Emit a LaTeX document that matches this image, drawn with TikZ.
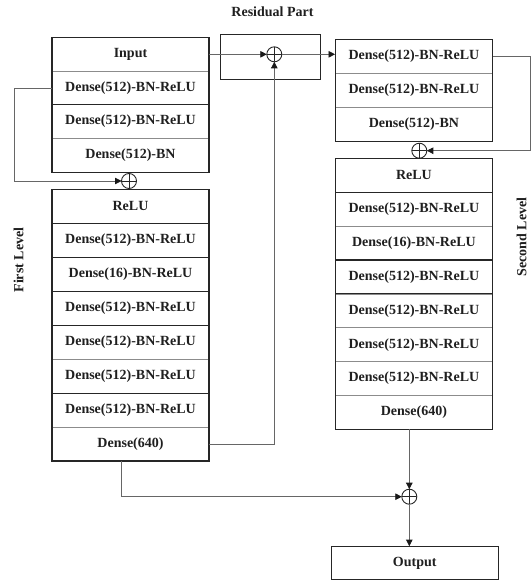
\documentclass[tikz,border=0pt]{standalone}
\usepackage{fontspec}
\setmainfont{Liberation Serif}
\usetikzlibrary{arrows.meta}
\begin{document}
\begin{tikzpicture}[x=1pt,y=-1pt,
  row/.style={draw=black!45, line width=0.6pt, minimum width=157pt, minimum height=33.9pt, inner sep=0pt, outer sep=0pt, font=\fontsize{14}{16}\selectfont\bfseries, text=black!88},
  frame/.style={draw=black!85, line width=1.1pt},
  sep/.style={draw=black!85, line width=1.1pt},
  sumnode/.style={circle, draw=black!85, line width=0.9pt, minimum size=15pt, inner sep=0pt, outer sep=0pt,
    path picture={\draw[black!85,line width=0.9pt] (path picture bounding box.north) -- (path picture bounding box.south) (path picture bounding box.west) -- (path picture bounding box.east);}},
  conn/.style={draw=black!60, line width=0.8pt},
  arr/.style={conn, -{Triangle[length=6.5pt,width=6.5pt,color=black!90]}},
  lbl/.style={font=\fontsize{14}{16}\selectfont\bfseries, text=black!88}
]
\useasboundingbox (0,0) rectangle (531,581);

% ---------- left top group ----------
\node[row, minimum height=33.7pt] (L1) at (130.5,54.2) {Input};
\node[row, minimum height=33.7pt] (L2) at (130.5,87.9) {Dense(512)-BN-ReLU};
\node[row, minimum height=33.7pt] (L3) at (130.5,121.6) {Dense(512)-BN-ReLU};
\node[row, minimum height=33.7pt] (L4) at (130.5,155.3) {Dense(512)-BN};
\draw[frame] (L1.north west) rectangle (L4.south east);
\draw[sep] (L2.south west) -- (L2.south east);

% ---------- left lower group ----------
\node[row, minimum height=33.96pt] (A1) at (130.5,206.3) {ReLU};
\node[row, minimum height=33.96pt] (A2) at (130.5,240.2) {Dense(512)-BN-ReLU};
\node[row, minimum height=33.96pt] (A3) at (130.5,274.2) {Dense(16)-BN-ReLU};
\node[row, minimum height=33.96pt] (A4) at (130.5,308.2) {Dense(512)-BN-ReLU};
\node[row, minimum height=33.96pt] (A5) at (130.5,342.1) {Dense(512)-BN-ReLU};
\node[row, minimum height=33.96pt] (A6) at (130.5,376.1) {Dense(512)-BN-ReLU};
\node[row, minimum height=33.96pt] (A7) at (130.5,410.0) {Dense(512)-BN-ReLU};
\node[row, minimum height=33.96pt] (A8) at (130.5,444.0) {Dense(640)};
\draw[frame] (A1.north west) rectangle (A8.south east);
\foreach \n in {A1,A2,A3,A4,A6} \draw[sep] (\n.south west) -- (\n.south east);

% ---------- right top group ----------
\node[row, minimum width=157.7pt, minimum height=33.9pt] (R1) at (413.9,56.3) {Dense(512)-BN-ReLU};
\node[row, minimum width=157.7pt, minimum height=33.9pt] (R2) at (413.9,90.2) {Dense(512)-BN-ReLU};
\node[row, minimum width=157.7pt, minimum height=33.9pt] (R3) at (413.9,124.1) {Dense(512)-BN};
\draw[frame] (R1.north west) rectangle (R3.south east);

% ---------- right lower group ----------
\node[row, minimum width=157.7pt, minimum height=33.9pt] (B1) at (413.9,175.2) {ReLU};
\node[row, minimum width=157.7pt, minimum height=33.9pt] (B2) at (413.9,209.1) {Dense(512)-BN-ReLU};
\node[row, minimum width=157.7pt, minimum height=33.9pt] (B3) at (413.9,243.0) {Dense(16)-BN-ReLU};
\node[row, minimum width=157.7pt, minimum height=33.9pt] (B4) at (413.9,276.9) {Dense(512)-BN-ReLU};
\node[row, minimum width=157.7pt, minimum height=33.9pt] (B5) at (413.9,310.8) {Dense(512)-BN-ReLU};
\node[row, minimum width=157.7pt, minimum height=33.9pt] (B6) at (413.9,344.7) {Dense(512)-BN-ReLU};
\node[row, minimum width=157.7pt, minimum height=33.9pt] (B7) at (413.9,378.6) {Dense(512)-BN-ReLU};
\node[row, minimum width=157.7pt, minimum height=33.9pt] (B8) at (413.9,412.4) {Dense(640)};
\draw[frame] (B1.north west) rectangle (B8.south east);
\foreach \n in {B1,B3,B4} \draw[sep] (\n.south west) -- (\n.south east);

% ---------- residual part ----------
\node[lbl] (restitle) at (272.5,11.5) {Residual Part};
\node[frame, minimum width=100pt, minimum height=45.4pt, inner sep=0pt] (resbox) at (270.7,57) {};
\node[sumnode] (cres) at (274.3,54.3) {};

% ---------- sum nodes ----------
\node[sumnode] (c1) at (129,181) {};
\node[sumnode] (c2) at (419.3,150.7) {};
\node[sumnode] (c3) at (409.3,496.7) {};

% ---------- output ----------
\node[frame, minimum width=167.3pt, minimum height=32.6pt, inner sep=0pt, font=\fontsize{14}{16}\selectfont\bfseries, text=black!88] (out) at (414.7,563) {Output};

% ---------- side labels ----------
\node[lbl, rotate=90] (first) at (18.5,260) {First Level};
\node[lbl, rotate=90] (second) at (521.5,237) {Second Level};

% ---------- connectors ----------
\coordinate (lpA) at (14,87.9);
\coordinate (lpB) at (14,181);
\draw[arr] (L2.west) -- (lpA) -- (lpB) -- (c1.west);

\coordinate (rpA) at (530,56.3);
\coordinate (rpB) at (530,150.7);
\draw[arr] (R1.east) -- (rpA) -- (rpB) -- (c2.east);

\draw[arr] (L1.east |- cres) -- (cres.west);
\draw[arr] (cres.east) -- (cres.east -| R1.west);

\coordinate (upA) at (274.3,444);
\draw[arr] (A8.east) -- (upA) -- (cres.south);

\coordinate (bA) at (121,461);
\coordinate (bB) at (121,496.7);
\draw[arr] (bA) -- (bB) -- (c3.west);

\draw[arr] (c3 |- B8.south) -- (c3.north);
\draw[arr] (c3.south) -- (c3 |- out.north);
\end{tikzpicture}
\end{document}
